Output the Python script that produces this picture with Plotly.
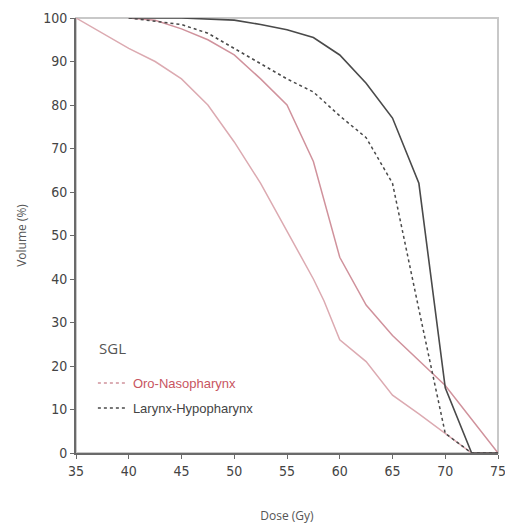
import plotly.graph_objects as go

# Dose (Gy) sample points and volume (%) values
oro_low_dose = [35, 37.5, 40, 42.5, 45, 47.5, 50, 52.5, 55, 57.5, 58.5, 60, 62.5, 65, 67.5, 70, 72.5, 75]
oro_low_vol = [100, 96.5, 93, 90, 86, 80, 71.5, 62, 51, 40, 35, 26, 21, 13.3, 9, 4.6, 0, 0]

oro_high_dose = [40, 42.5, 45, 47.5, 50, 52.5, 55, 57.5, 60, 62.5, 65, 70, 75]
oro_high_vol = [100, 99.5, 97.5, 95, 91.5, 86, 80, 67, 45, 34, 27, 15.5, 0]

lar_dash_dose = [40, 45, 47.5, 50, 52.5, 55, 57.5, 60, 62.5, 65, 67.5, 70, 72.5, 75]
lar_dash_vol = [100, 98.5, 96.5, 93, 89.5, 86, 83, 77.5, 72.5, 62, 33, 4.5, 0, 0]

lar_solid_dose = [40, 45, 50, 52.5, 55, 57.5, 60, 62.5, 65, 67.5, 70, 72.5, 75]
lar_solid_vol = [100, 100, 99.5, 98.5, 97.3, 95.5, 91.5, 85, 77, 62, 15, 0, 0]

x_ticks = [35, 40, 45, 50, 55, 60, 65, 70, 75]
y_ticks = [0, 10, 20, 30, 40, 50, 60, 70, 80, 90, 100]

legend_title = "SGL"
legend_names = ["Oro-Nasopharynx", "Larynx-Hypopharynx"]

PINK = "#dcaab1"
PINK2 = "#d0929c"
DARK = "#4a4a4a"

fig = go.Figure()
fig.add_trace(go.Scatter(x=oro_low_dose, y=oro_low_vol, mode="lines",
                         line=dict(color=PINK, width=1.5), showlegend=False))
fig.add_trace(go.Scatter(x=oro_high_dose, y=oro_high_vol, mode="lines",
                         line=dict(color=PINK2, width=1.5), showlegend=False))
fig.add_trace(go.Scatter(x=lar_dash_dose, y=lar_dash_vol, mode="lines",
                         line=dict(color=DARK, width=1.5, dash="dot"), showlegend=False))
fig.add_trace(go.Scatter(x=lar_solid_dose, y=lar_solid_vol, mode="lines",
                         line=dict(color=DARK, width=1.6), showlegend=False))

# legend entries
fig.add_trace(go.Scatter(x=[None], y=[None], mode="lines", legendgroup="oro",
                         name='<span style="color:#c8555f">' + legend_names[0] + '</span>',
                         line=dict(color=PINK2, width=1.5, dash="dot")))
fig.add_trace(go.Scatter(x=[None], y=[None], mode="lines", legendgroup="lar",
                         name=legend_names[1],
                         line=dict(color=DARK, width=1.5, dash="dot")))

tick_font = dict(family="Liberation Sans Narrow, Arial Narrow, DejaVu Sans Condensed, sans-serif",
                 size=14, color="#444")

fig.update_layout(
    width=505, height=532,
    margin=dict(l=76, r=7, t=18, b=79),
    paper_bgcolor="white", plot_bgcolor="white",
    showlegend=True,
    legend=dict(
        x=0.04, y=0.195, xanchor="left", yanchor="top",
        bgcolor="rgba(0,0,0,0)",
        font=dict(family="Liberation Sans Narrow, Arial Narrow, sans-serif", size=13, color="#444"),
        itemwidth=30,
        tracegroupgap=5,
    ),
    annotations=[dict(text=legend_title, xref="paper", yref="paper",
                      x=(97 - 76) / 422, y=(453 - 348) / 435, xanchor="left", yanchor="middle",
                      showarrow=False,
                      font=dict(family="Open Sans, sans-serif", size=15, color="#555"))],
    xaxis=dict(
        range=[35, 75], tickvals=x_ticks, ticktext=[str(v) for v in x_ticks],
        showgrid=False, zeroline=False, automargin=False,
        showline=True, linecolor="#6a6a6a", linewidth=2,
        ticks="outside", ticklen=4, tickcolor="#6a6a6a",
        tickfont=tick_font, ticklabeloverflow="allow",
        title=dict(text="Dose (Gy)", font=dict(family="Open Sans, sans-serif", size=12, color="#555"),
                   standoff=34),
    ),
    yaxis=dict(
        range=[0, 100], tickvals=y_ticks, ticktext=[str(v) for v in y_ticks],
        showgrid=False, zeroline=False, automargin=False,
        showline=True, linecolor="#6a6a6a", linewidth=2,
        ticks="outside", ticklen=4, tickcolor="#6a6a6a",
        tickfont=tick_font,
        title=dict(text="Volume (%)", font=dict(family="Open Sans, sans-serif", size=12, color="#555"),
                   standoff=14),
    ),
    shapes=[dict(type="rect", xref="paper", yref="paper", x0=0, x1=1, y0=0, y1=1,
                 line=dict(color="#c8c8c8", width=2), layer="below")],
)

fig.write_html("out.html")
